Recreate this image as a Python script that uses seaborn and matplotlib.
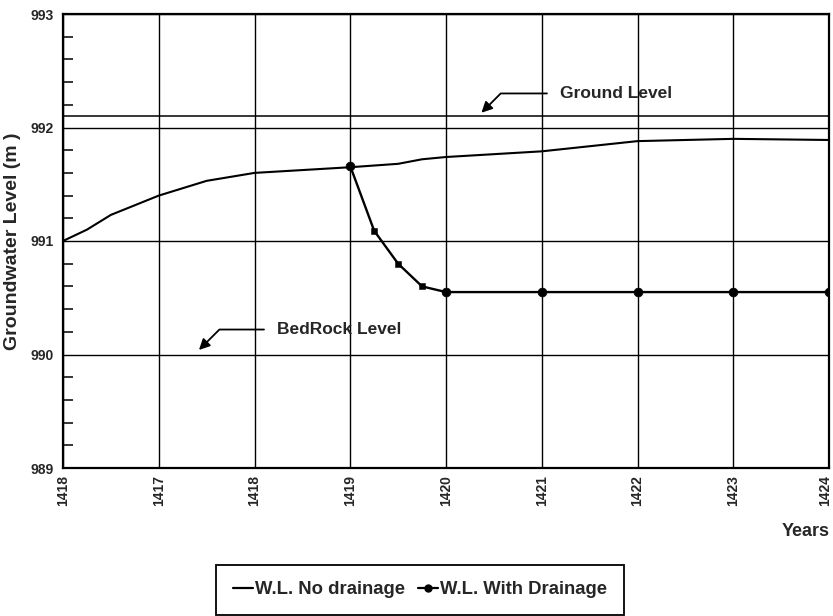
import matplotlib
matplotlib.use("Agg")
import matplotlib.pyplot as plt
import matplotlib.transforms as mtransforms
from matplotlib.lines import Line2D
from matplotlib.ticker import MultipleLocator, FixedLocator
import seaborn as sns
import numpy as np

# ---- data ----
tick_labels = ["1418", "1417", "1418", "1419", "1420", "1421", "1422", "1423", "1424"]
tick_pos = [0, 1, 2, 3, 4, 5, 6, 7, 8]

t_no_drain = [0, 0.25, 0.5, 1, 1.5, 2, 3, 3.5, 3.75, 4, 5, 6, 7, 8]
wl_no_drain = [991.00, 991.10, 991.23, 991.40, 991.53, 991.60, 991.65, 991.68,
               991.72, 991.74, 991.79, 991.88, 991.90, 991.89]

t_drain = [3, 3.25, 3.5, 3.75, 4, 5, 6, 7, 8]
wl_drain = [991.66, 991.09, 990.80, 990.60, 990.55, 990.55, 990.55, 990.55, 990.55]

ground_level = 992.1
bedrock_level = 990.0

sns.set_style("white")
plt.rcParams["font.family"] = ["Liberation Sans", "DejaVu Sans"]

fig = plt.figure(figsize=(8.33, 6.16), dpi=100)
ax = fig.add_axes([63 / 833, 1 - 468 / 616, 766 / 833, 454 / 616])

# grid
ax.set_xlim(0, 8)
ax.set_ylim(989, 993)
ax.xaxis.set_major_locator(FixedLocator(tick_pos))
ax.set_xticklabels(tick_labels, rotation=90, fontsize=10, fontweight="bold")
ax.yaxis.set_major_locator(MultipleLocator(1))
ax.yaxis.set_minor_locator(MultipleLocator(0.2))
for lab in ax.get_yticklabels():
    lab.set_fontsize(10)
    lab.set_fontweight("bold")
ax.grid(True, which="major", axis="both", color="black", lw=1.0)
ax.tick_params(axis="x", which="major", length=0, pad=5)
ax.tick_params(axis="y", which="major", length=0, pad=7)
ax.tick_params(axis="y", which="minor", direction="in", length=7, width=1.3, left=True)
for s in ax.spines.values():
    s.set_color("black")
    s.set_linewidth(1.6)

# keep the last x tick label inside the figure
last_lab = ax.get_xticklabels()[-1]
last_lab.set_transform(last_lab.get_transform() +
                       mtransforms.ScaledTranslation(-3 / 72, 0, fig.dpi_scale_trans))

# ground level line
ax.axhline(ground_level, color="black", lw=1.1)

# curves
sns.lineplot(x=t_no_drain, y=wl_no_drain, color="black", lw=1.5, ax=ax,
             legend=False, sort=False)
sns.lineplot(x=t_drain, y=wl_drain, color="black", lw=1.7, ax=ax,
             legend=False, sort=False)
t_arr = np.array(t_drain, dtype=float)
wl_arr = np.array(wl_drain)
is_int = np.isclose(t_arr, np.round(t_arr))
sns.scatterplot(x=t_arr[is_int], y=wl_arr[is_int], color="black", marker="o",
                s=40, edgecolor="black", ax=ax, legend=False, zorder=5)
sns.scatterplot(x=t_arr[~is_int], y=wl_arr[~is_int], color="black", marker="s",
                s=22, edgecolor="black", ax=ax, legend=False, zorder=5)

ax.set_xlabel("")
ax.set_ylabel("Groundwater Level (m )", fontsize=14, fontweight="bold")
ax.yaxis.set_label_coords(-0.055, 0.5)

ax.text(1.001, -0.139, "Years", transform=ax.transAxes, ha="right", va="center",
        fontsize=13, fontweight="bold")

# annotations
arrow = dict(arrowstyle="-|>", connectionstyle="angle,angleA=0,angleB=45,rad=0",
             color="black", lw=1.3, mutation_scale=16, shrinkA=7, shrinkB=0)
ax.annotate("Ground Level", xy=(4.37, 992.13), xytext=(5.19, 992.30),
            ha="left", va="center", fontsize=12.5, fontweight="bold",
            arrowprops=arrow)
ax.annotate("BedRock Level", xy=(1.42, 990.04), xytext=(2.235, 990.22),
            ha="left", va="center", fontsize=12.5, fontweight="bold",
            arrowprops=arrow)

# legend
handles = [
    Line2D([], [], color="black", lw=1.6),
    Line2D([], [], color="black", lw=1.6, marker="o", markersize=5),
]
leg = fig.legend(handles, ["W.L. No drainage", "W.L. With Drainage"],
                 loc="center", bbox_to_anchor=(420 / 833, 1 - 590 / 616),
                 ncol=2, handlelength=1.1, handletextpad=0.1,
                 columnspacing=0.7, borderpad=0.9, fancybox=False,
                 frameon=True, edgecolor="black", framealpha=1,
                 prop={"weight": "bold", "size": 13.3})
leg.get_frame().set_linewidth(1.3)

fig.savefig("out.png", dpi=100, facecolor="white")
